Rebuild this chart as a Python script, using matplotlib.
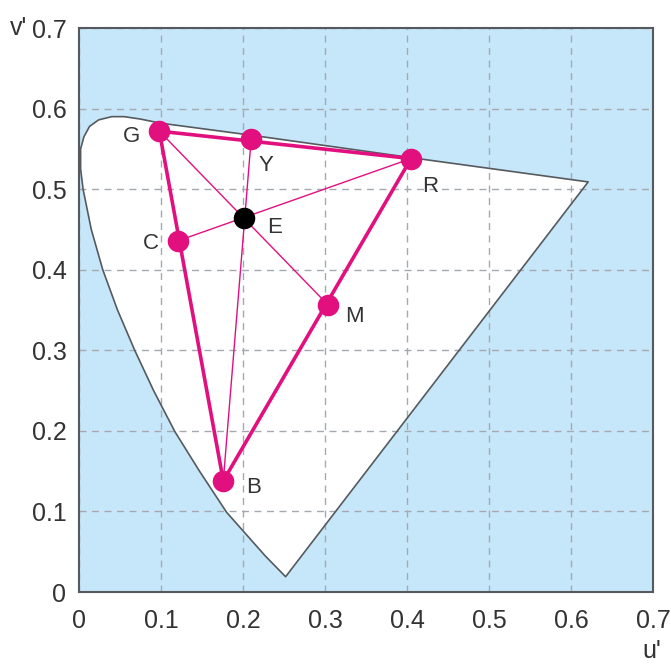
import matplotlib.pyplot as plt

# spectral locus outline (u', v')
locus_u = [0.252, 0.227, 0.180, 0.147, 0.117, 0.091, 0.068, 0.047, 0.029, 0.015,
           0.005, 0.002, 0.002, 0.006, 0.013, 0.024, 0.040, 0.055, 0.075, 0.099,
           0.210, 0.420, 0.621]
locus_v = [0.019, 0.045, 0.099, 0.150, 0.199, 0.250, 0.300, 0.350, 0.400, 0.450,
           0.500, 0.525, 0.550, 0.565, 0.578, 0.586, 0.590, 0.590, 0.587, 0.582,
           0.567, 0.537, 0.509]

# primaries, secondaries and white point
names = ["R", "G", "B", "Y", "C", "M", "E"]
pt_u = [0.405, 0.098, 0.176, 0.210, 0.121, 0.304, 0.201]
pt_v = [0.538, 0.572, 0.138, 0.562, 0.436, 0.356, 0.464]

ticks = [0, 0.1, 0.2, 0.3, 0.4, 0.5, 0.6, 0.7]
tick_labels = ["0", "0.1", "0.2", "0.3", "0.4", "0.5", "0.6", "0.7"]

MAGENTA = "#e2107f"
BG = "#c6e7fa"
EDGE = "#555a5e"
FONT = ["Liberation Sans", "DejaVu Sans"]

pos = dict(zip(names, zip(pt_u, pt_v)))

fig = plt.figure(figsize=(6.71, 6.64), dpi=100)
ax = fig.add_axes([0.1177, 0.1084, 0.8554, 0.8494])
ax.set_facecolor(BG)
ax.set_xlim(0, 0.7)
ax.set_ylim(0, 0.7)

# white inside the locus
ax.fill(locus_u, locus_v, facecolor="white", edgecolor="none", zorder=1)
ax.grid(True, color="#a3a9ae", linestyle=(0, (5, 4)), linewidth=1, zorder=2)
ax.fill(locus_u, locus_v, facecolor="none", edgecolor=EDGE, linewidth=1.2,
        joinstyle="round", zorder=3)

# thin lines through the white point
for a, b in [("G", "M"), ("Y", "B"), ("C", "R")]:
    ax.plot([pos[a][0], pos[b][0]], [pos[a][1], pos[b][1]],
            color=MAGENTA, linewidth=1.0, zorder=4)

# gamut triangle
tri = ["R", "G", "B", "R"]
ax.plot([pos[n][0] for n in tri], [pos[n][1] for n in tri],
        color=MAGENTA, linewidth=2.6, zorder=5, solid_joinstyle="round")

for n in names:
    c = "black" if n == "E" else MAGENTA
    ax.plot(pos[n][0], pos[n][1], "o", color=c, markersize=14.5, zorder=6)

# label offsets in points
offsets = {"G": (-20, -4), "Y": (11, -19), "R": (14, -20), "E": (22, -7),
           "C": (-20, -2), "M": (19, -8), "B": (22, -5)}
for n, (dx, dy) in offsets.items():
    ax.annotate(n, pos[n], xytext=(dx, dy), textcoords="offset points",
                ha="center", va="center", fontsize=16, color="#333333",
                family=FONT, zorder=7)

ax.set_xticks(ticks)
ax.set_xticklabels(tick_labels)
ax.set_yticks(ticks)
ax.set_yticklabels(tick_labels)
ax.tick_params(length=0, labelsize=18, colors="#333333")
ax.tick_params(axis="x", pad=12)
ax.tick_params(axis="y", pad=9)
for lab in ax.get_xticklabels() + ax.get_yticklabels():
    lab.set_family(FONT)

for s in ax.spines.values():
    s.set_color(EDGE)
    s.set_linewidth(1.5)
    s.set_zorder(8)

fig.text(0.027, 0.958, "v'", fontsize=18, color="#333333", family=FONT,
         ha="center", va="center")
fig.text(0.972, 0.002, "u'", fontsize=18, color="#333333", family=FONT,
         ha="center", va="bottom")

fig.savefig("out.png", dpi=100)
